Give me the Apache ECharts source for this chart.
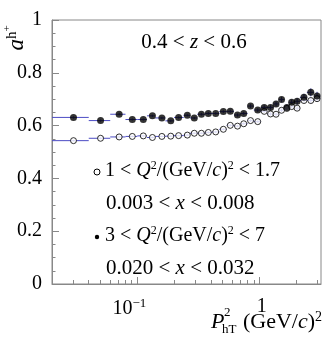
<!DOCTYPE html>
<html>
<head>
<meta charset="utf-8">
<title>a h+ vs PhT2</title>
<script src="https://cdn.jsdelivr.net/npm/echarts@6/dist/echarts.min.js"></script>
<style>
    html, body { margin: 0; padding: 0; background: #fff; }
    #main { width: 332px; height: 338px; }
</style>
</head>
<body>
<div id="main"></div>
<script>
// P_hT^2 bin centres, (GeV/c)^2
var ptBins = [0.030, 0.050, 0.071, 0.091, 0.112, 0.133, 0.159, 0.188, 0.218, 0.257,
              0.293, 0.335, 0.382, 0.439, 0.507, 0.578, 0.662, 0.745, 0.847, 0.970,
              1.096, 1.235, 1.37, 1.52, 1.68, 1.84, 2.04, 2.32, 2.64, 2.97];
// bin edges (horizontal error bars)
var ptEdges = [0.02, 0.04, 0.06, 0.08, 0.10, 0.12, 0.14, 0.17, 0.20, 0.24, 0.27,
               0.31, 0.36, 0.41, 0.47, 0.54, 0.62, 0.70, 0.80, 0.90, 1.03,
               1.16, 1.30, 1.45, 1.60, 1.76, 1.93, 2.15, 2.45, 2.80, 3.15];

// 3 < Q2 < 7, 0.020 < x < 0.032 (filled)
var aHigh = [0.631, 0.619, 0.643, 0.623, 0.623, 0.637, 0.629, 0.618, 0.631, 0.639,
             0.629, 0.643, 0.646, 0.646, 0.653, 0.654, 0.640, 0.646, 0.674, 0.659,
             0.669, 0.669, 0.682, 0.699, 0.669, 0.688, 0.692, 0.707, 0.726, 0.712];
var aHighErr = [0.004, 0.004, 0.004, 0.004, 0.004, 0.004, 0.004, 0.004, 0.004, 0.004,
                0.004, 0.005, 0.005, 0.005, 0.005, 0.006, 0.006, 0.006, 0.007, 0.007,
                0.008, 0.008, 0.009, 0.009, 0.010, 0.011, 0.012, 0.013, 0.015, 0.016];

// 1 < Q2 < 1.7, 0.003 < x < 0.008 (open)
var aLow = [0.543, 0.552, 0.557, 0.559, 0.561, 0.555, 0.559, 0.560, 0.562, 0.564,
            0.571, 0.571, 0.574, 0.576, 0.586, 0.601, 0.598, 0.607, 0.619, 0.615,
            0.654, 0.644, 0.643, 0.658, 0.665, 0.672, 0.666, 0.695, 0.695, 0.702];
var aLowErr = [0.003, 0.003, 0.003, 0.003, 0.003, 0.003, 0.003, 0.003, 0.003, 0.003,
               0.003, 0.003, 0.004, 0.004, 0.004, 0.004, 0.004, 0.005, 0.005, 0.005,
               0.006, 0.006, 0.006, 0.007, 0.007, 0.008, 0.008, 0.009, 0.010, 0.011];

// axis ticks
var xMinorTicks = [0.02, 0.03, 0.04, 0.05, 0.06, 0.07, 0.08, 0.09,
                   0.2, 0.3, 0.4, 0.5, 0.6, 0.7, 0.8, 0.9, 2, 3];
var xMajorTicks = [0.1, 1];

var FONT = "'Liberation Serif', 'DejaVu Serif', serif";
var FRAME = '#888';
var ERRCOL = '#4c4cc4';

// rich styles for the annotation texts
function richFor(size) {
    return {
        it: { fontFamily: FONT, fontSize: size, fontStyle: 'italic', color: '#000' },
        sup: { fontFamily: FONT, fontSize: Math.round(size * 0.62), color: '#000', padding: [0, 0, 10, 0] }
    };
}

function label(x, y, text, size, align) {
    return {
        type: 'text', x: x, y: y,
        style: {
            text: text, fontFamily: FONT, fontSize: size, fill: '#000',
            align: align || 'left', verticalAlign: 'middle', rich: richFor(size)
        }
    };
}

function errorSeries(values, errs) {
    var data = [];
    for (var i = 0; i < ptBins.length; i++) {
        data.push([ptBins[i], values[i], ptEdges[i], ptEdges[i + 1], errs[i]]);
    }
    return {
        type: 'custom',
        silent: true,
        z: 1,
        encode: { x: 0, y: 1 },
        data: data,
        renderItem: function (params, api) {
            var y = api.value(1), e = api.value(4);
            var l = api.coord([api.value(2), y]);
            var r = api.coord([api.value(3), y]);
            var t = api.coord([api.value(0), y + e]);
            var b = api.coord([api.value(0), y - e]);
            var st = { stroke: ERRCOL, lineWidth: 1 };
            return {
                type: 'group',
                children: [
                    { type: 'line', shape: { x1: l[0], y1: l[1], x2: r[0], y2: r[1] }, style: st },
                    { type: 'line', shape: { x1: t[0], y1: t[1], x2: b[0], y2: b[1] }, style: st }
                ]
            };
        }
    };
}

function pairs(values) {
    var out = [];
    for (var i = 0; i < ptBins.length; i++) out.push([ptBins[i], values[i]]);
    return out;
}

var myChart = echarts.init(document.getElementById('main'), null, { renderer: 'canvas' });

var option = {
    animation: false,
    backgroundColor: '#fff',
    grid: {
        left: 52, top: 20, right: 11, bottom: 54,
        show: true, borderColor: FRAME, borderWidth: 1, backgroundColor: 'transparent'
    },
    xAxis: [{
        type: 'log', logBase: 10, min: 0.02, max: 3.2,
        axisLine: { lineStyle: { color: FRAME } },
        axisTick: { inside: true, length: 4, lineStyle: { color: FRAME }, customValues: xMinorTicks },
        axisLabel: { show: false },
        splitLine: { show: false }
    }, {
        type: 'log', logBase: 10, min: 0.02, max: 3.2, position: 'bottom',
        axisLine: { show: false },
        axisTick: { inside: true, length: 7, lineStyle: { color: FRAME }, customValues: xMajorTicks },
        axisLabel: {
            customValues: xMajorTicks,
            margin: 13,
            fontFamily: FONT, fontSize: 20, color: '#000',
            formatter: function (v) {
                var p = Math.round(Math.log(v) / Math.LN10);
                return p === 0 ? '{one|1}' : '10{sup|\u2212' + (-p) + '}';
            },
            rich: {
                sup: { fontFamily: FONT, fontSize: 13, color: '#000', padding: [0, 16, 10, 0] },
                one: { fontFamily: FONT, fontSize: 20, color: '#000', padding: [0, 0, 0, 5] }
            }
        },
        splitLine: { show: false }
    }],
    yAxis: {
        type: 'value', min: 0, max: 1, interval: 0.2,
        axisLine: { show: true, lineStyle: { color: FRAME } },
        axisTick: { inside: true, length: 7, lineStyle: { color: FRAME } },
        minorTick: { show: true, splitNumber: 4, length: 3.5, lineStyle: { color: FRAME } },
        axisLabel: { margin: 10, fontFamily: FONT, fontSize: 20, color: '#000' },
        splitLine: { show: false }
    },
    series: [
        errorSeries(aLow, aLowErr),
        errorSeries(aHigh, aHighErr),
        {
            name: '1 < Q2 < 1.7',
            type: 'scatter', symbol: 'circle', symbolSize: 6, z: 3,
            itemStyle: { color: '#fff', borderColor: '#000', borderWidth: 1 },
            data: pairs(aLow)
        },
        {
            name: '3 < Q2 < 7',
            type: 'scatter', symbol: 'circle', symbolSize: 7, z: 3,
            itemStyle: { color: '#000' },
            data: pairs(aHigh)
        }
    ],
    graphic: [
        // y axis title a^{h+}
        {
            type: 'text', x: 17, y: 38, rotation: Math.PI / 2,
            style: {
                text: '{a|a}{h|h}{p|+}',
                align: 'center', verticalAlign: 'middle',
                rich: {
                    a: { fontFamily: FONT, fontSize: 23, fontStyle: 'italic', color: '#000' },
                    h: { fontFamily: FONT, fontSize: 15, color: '#000', padding: [0, 0, 10, 0] },
                    p: { fontFamily: FONT, fontSize: 11, color: '#000', padding: [0, 0, 20, 0] }
                }
            }
        },
        // x axis title P^2_hT (GeV/c)^2
        {
            type: 'text', x: 211, y: 322,
            style: { text: 'P', fontFamily: FONT, fontSize: 22, fontStyle: 'italic', fill: '#000', verticalAlign: 'middle' }
        },
        {
            type: 'text', x: 224, y: 313,
            style: { text: '2', fontFamily: FONT, fontSize: 13, fill: '#000', verticalAlign: 'middle' }
        },
        {
            type: 'text', x: 222, y: 330,
            style: { text: 'hT', fontFamily: FONT, fontSize: 13, fill: '#000', verticalAlign: 'middle' }
        },
        label(322, 322, '(GeV/{it|c}){sup|2}', 22, 'right'),
        // z range
        label(194, 42, '0.4 < {it|z} < 0.6', 21, 'center'),
        // legend: open circles
        {
            type: 'circle', shape: { cx: 97, cy: 172, r: 3 },
            style: { fill: '#fff', stroke: '#000', lineWidth: 1 }
        },
        label(105, 171, '1 < {it|Q}{sup|2}/(GeV/{it|c}){sup|2} < 1.7', 20),
        label(106, 203, '0.003 < {it|x} < 0.008', 21),
        // legend: filled circles
        {
            type: 'circle', shape: { cx: 97, cy: 237, r: 2.2 },
            style: { fill: '#000' }
        },
        label(105, 236, '3 < {it|Q}{sup|2}/(GeV/{it|c}){sup|2} < 7', 20),
        label(106, 268, '0.020 < {it|x} < 0.032', 21)
    ]
};

myChart.setOption(option);
</script>
</body>
</html>
